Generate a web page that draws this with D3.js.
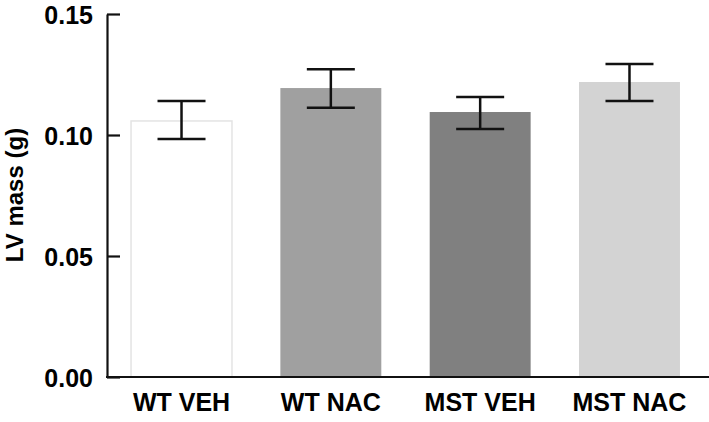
<!DOCTYPE html>
<html><head><meta charset="utf-8">
<script src="https://cdn.jsdelivr.net/npm/d3@7"></script>
<style>
html,body{margin:0;padding:0;background:#fff;}
text{font-family:"Liberation Sans",Arial,sans-serif;font-weight:bold;fill:#000;}
</style></head>
<body>
<svg id="chart" width="709" height="422"></svg>
<script>
const categories = ["WT VEH", "WT NAC", "MST VEH", "MST NAC"];
const means = [0.1058, 0.1194, 0.1095, 0.1219];
const errLow = [0.0983, 0.1113, 0.1025, 0.1140];
const errHigh = [0.1140, 0.1272, 0.1157, 0.1293];
const barColors = ["#ffffff", "#a0a0a0", "#808080", "#d3d3d3"];
const yTicks = [0, 0.05, 0.10, 0.15];

const svg = d3.select("#chart");
const x = d3.scaleBand().domain(categories).range([107, 704]).paddingInner(0.324).paddingOuter(0.161);
const y = d3.scaleLinear().domain([0, 0.15]).range([377, 14]);

// bars
svg.append("g").selectAll("rect").data(categories).join("rect")
  .attr("x", d => x(d))
  .attr("width", x.bandwidth())
  .attr("y", (d, i) => y(means[i]))
  .attr("height", (d, i) => y(0) - y(means[i]))
  .attr("fill", (d, i) => barColors[i])
  .attr("stroke", (d, i) => i === 0 ? "#e4e4e4" : "none")
  .attr("stroke-width", 1.5);

// error bars
const eg = svg.append("g").attr("stroke", "#111").attr("stroke-width", 2.5).attr("fill", "none");
categories.forEach((c, i) => {
  const cx = x(c) + x.bandwidth() / 2;
  const hw = 24;
  eg.append("line").attr("x1", cx).attr("x2", cx).attr("y1", y(errHigh[i])).attr("y2", y(errLow[i]));
  eg.append("line").attr("x1", cx - hw).attr("x2", cx + hw).attr("y1", y(errHigh[i])).attr("y2", y(errHigh[i]));
  eg.append("line").attr("x1", cx - hw).attr("x2", cx + hw).attr("y1", y(errLow[i])).attr("y2", y(errLow[i]));
});

// y axis
const yAxis = svg.append("g").attr("transform", "translate(107,0)")
  .call(d3.axisRight(y).tickValues(yTicks).tickFormat(d3.format(".2f")).tickSize(13).tickSizeOuter(0));
yAxis.select(".domain").attr("stroke", "#111").attr("stroke-width", 2.2);
yAxis.selectAll(".tick line").attr("stroke", "#111").attr("stroke-width", 2.2);
yAxis.selectAll(".tick text").attr("x", -14).attr("text-anchor", "end")
  .attr("dy", "0.36em").style("font-size", "25px").style("font-family", "'Liberation Sans',Arial,sans-serif").style("font-weight", "bold").attr("fill", "#000");

// x axis line
svg.append("line").attr("x1", 106).attr("x2", 709).attr("y1", y(0)).attr("y2", y(0))
  .attr("stroke", "#111").attr("stroke-width", 2.2);

// x labels
svg.append("g").selectAll("text").data(categories).join("text")
  .attr("x", d => x(d) + x.bandwidth() / 2)
  .attr("y", 411)
  .attr("text-anchor", "middle")
  .style("font-size", "25px")
  .text(d => d);

// y label
svg.append("text")
  .attr("transform", "translate(23,195) rotate(-90)")
  .attr("text-anchor", "middle")
  .style("font-size", "24px")
  .text("LV mass (g)");
</script>
</body></html>
